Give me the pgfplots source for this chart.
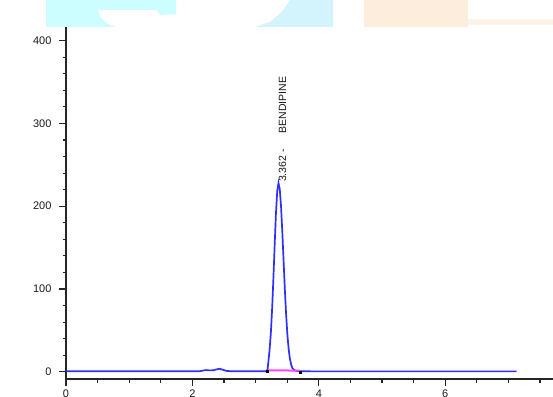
\documentclass[border=0pt]{standalone}
\usepackage{pgfplots}
\pgfplotsset{compat=1.18}
\usepackage{fontspec}
\setmainfont{Liberation Sans}
\definecolor{decocyan}{HTML}{CCFDFF}
\definecolor{decoblue}{HTML}{D3F3FD}
\definecolor{decoorange}{HTML}{FDEDDD}
\definecolor{decoorange2}{HTML}{FDF3EA}
\definecolor{traceblue}{HTML}{2E2EFF}
\definecolor{basepink}{HTML}{FF44FF}
\begin{document}
\begin{tikzpicture}[x=1pt,y=1pt]
\useasboundingbox (0,0) rectangle (553,396);
% header decorations (cropped page background)
\fill[decocyan] (46,396) -- (176,396) -- (176,382) -- (160,381) -- (157,386) -- (98,386) -- (100,379) -- (108,372) -- (115,369) -- (46,369) -- cycle;
\fill[decoblue] (290,396) -- (333,396) -- (333,369) -- (255,369) -- (270,374) -- (282,384) -- cycle;
\fill[decoorange] (364,396) rectangle (468,369);
\fill[decoorange2] (468,377) rectangle (553,371);
\begin{axis}[
  at={(66pt,17pt)}, anchor=south west,
  scale only axis, width=487pt, height=352pt,
  xmin=0, xmax=7.705, ymin=-8.8, ymax=416.5,
  axis x line=bottom, axis y line=left,
  axis line style={-, black!85, line width=1.4pt},
  xtick={0,2,4,6}, ytick={0,100,200,300,400},
  minor xtick={0.5,1,1.5,2.5,3,3.5,4.5,5,5.5,6.5,7,7.5},
  minor ytick={20,40,60,80,120,140,160,180,220,240,260,280,320,340,360,380},
  tick align=outside, major tick length=7pt, minor tick length=3.5pt,
  tick style={black!85, line width=1.1pt},
  ticklabel style={font=\fontsize{11}{13}\selectfont, text=black!90},
  yticklabel style={xshift=-4pt},
  xticklabel style={yshift=0pt},
  /pgf/number format/assume math mode=true,
  clip=false,
]
\addplot[traceblue, line width=1.7pt] coordinates {
(0,0.5) (1.0,0.5) (2.0,0.5) (2.12,0.6) (2.18,1.6) (2.22,2.0) (2.27,1.6) (2.33,1.7)
(2.38,2.8) (2.43,3.6) (2.48,2.4) (2.54,1.0) (2.62,0.5) (3.0,0.5) (3.17,0.6)
(3.189,3.0) (3.202,12.0) (3.222,27.4) (3.242,48.0) (3.262,77.3) (3.282,114.1)
(3.302,154.5) (3.322,191.7) (3.342,218.3) (3.362,228) (3.382,220.6) (3.402,199.9)
(3.422,169.6) (3.442,134.8) (3.462,100.2) (3.482,69.8) (3.502,45.5) (3.522,27.8)
(3.542,15.9) (3.562,8.5) (3.582,4.3) (3.612,2.0) (3.642,1.0) (3.682,0.6) (3.712,0.5)
(4.0,0.4) (5.0,0.4) (6.0,0.4) (7.0,0.4) (7.13,0.4)
};
\addplot[basepink, line width=2pt] coordinates {(3.195,1.6) (3.70,1.4)};
\addplot[only marks, mark=square*, mark size=1.1pt, black] coordinates {(3.189,1.0) (3.71,-0.5)};
\node[rotate=90, anchor=north west, inner sep=0pt, font=\fontsize{10.5}{12}\selectfont, text=black!90]
  at (axis cs:3.362,229) {3.362 -\hspace{16pt}BENDIPINE};
\end{axis}
\end{tikzpicture}
\end{document}
